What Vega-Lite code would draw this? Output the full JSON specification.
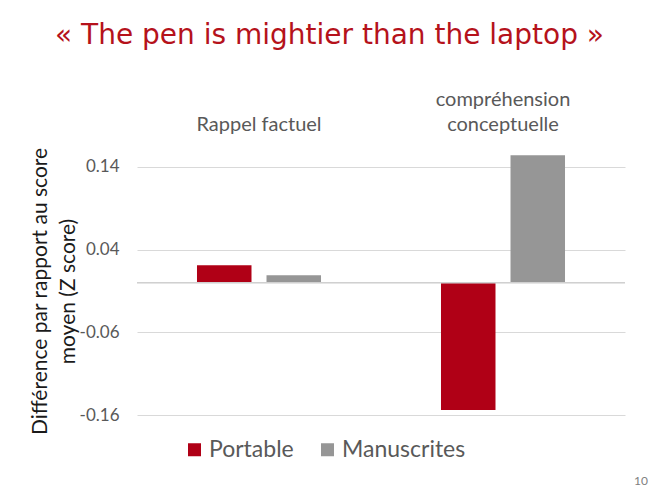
{
  "$schema": "https://vega.github.io/schema/vega-lite/v6.json",
  "width": 488,
  "height": 274,
  "padding": {"left": 29, "top": 22, "right": 5, "bottom": 5},
  "background": "white",
  "title": {
    "text": "« The pen is mightier than the laptop »",
    "font": "DejaVu Sans",
    "fontSize": 28,
    "fontWeight": "normal",
    "color": "#B5121B",
    "anchor": "middle",
    "frame": "bounds",
    "dx": -9,
    "offset": 39
  },
  "data": {
    "values": [
      {"categorie": "Rappel factuel", "condition": "Portable", "z": 0.021},
      {"categorie": "Rappel factuel", "condition": "Manuscrites", "z": 0.009},
      {"categorie": "compréhension conceptuelle", "condition": "Portable", "z": -0.154},
      {"categorie": "compréhension conceptuelle", "condition": "Manuscrites", "z": 0.154}
    ]
  },
  "layer": [
    {
      "mark": {"type": "bar"},
      "encoding": {
        "x": {
          "field": "categorie",
          "type": "nominal",
          "sort": null,
          "scale": {"paddingInner": 0, "paddingOuter": 0},
          "axis": {
            "orient": "top",
            "title": null,
            "labelAngle": 0,
            "domain": false,
            "ticks": false,
            "labelPadding": 32,
            "labelFontSize": 20,
            "labelFont": "Lato",
            "labelColor": "#595959",
            "labelLineHeight": 25,
            "labelExpr": "datum.value == 'compréhension conceptuelle' ? ['compréhension', 'conceptuelle'] : ['', datum.value]"
          }
        },
        "xOffset": {
          "field": "condition",
          "type": "nominal",
          "sort": ["Portable", "Manuscrites"],
          "scale": {"paddingInner": 0.216, "paddingOuter": 0.863}
        },
        "y": {
          "field": "z",
          "type": "quantitative",
          "scale": {"domain": [-0.16, 0.1713], "nice": false, "zero": false},
          "axis": {
            "title": ["Différence par rapport au score", "moyen (Z score)"],
            "titleFont": "Lato",
            "titleFontSize": 21,
            "titleFontWeight": "normal",
            "titleColor": "#1a1a1a",
            "titleLineHeight": 28,
            "titlePadding": 1,
            "titleY": 150,
            "values": [-0.16, -0.06, 0.04, 0.14],
            "labelExpr": "replace(format(datum.value, '.2f'), '−', '-')",
            "labelFont": "Lato",
            "labelFontSize": 17,
            "labelColor": "#595959",
            "labelPadding": 18,
            "ticks": false,
            "domain": false,
            "grid": true,
            "gridColor": "#D9D9D9"
          }
        },
        "color": {
          "field": "condition",
          "type": "nominal",
          "sort": ["Portable", "Manuscrites"],
          "scale": {"domain": ["Portable", "Manuscrites"], "range": ["#B00016", "#969696"]},
          "legend": {
            "title": null,
            "orient": "none",
            "legendX": 46,
            "legendY": 297,
            "direction": "horizontal",
            "symbolType": "square",
            "symbolSize": 169,
            "symbolStrokeWidth": 0,
            "symbolOpacity": 1,
            "labelFont": "Lato",
            "labelFontSize": 23,
            "labelColor": "#595959",
            "labelOffset": 3,
            "columnPadding": 22,
            "padding": 0
          }
        }
      }
    },
    {
      "mark": {"type": "rule", "color": "#D0D0D0"},
      "encoding": {"y": {"datum": 0}}
    },
    {
      "data": {"values": [{"page": "10"}]},
      "mark": {"type": "text", "align": "left", "baseline": "middle", "fontSize": 12, "font": "Lato", "color": "#808080", "dx": 9},
      "encoding": {
        "text": {"field": "page", "type": "nominal"},
        "x": {"datum": "compréhension conceptuelle", "type": "nominal", "bandPosition": 1},
        "y": {"datum": -0.24}
      }
    }
  ],
  "config": {"view": {"stroke": null}}
}
